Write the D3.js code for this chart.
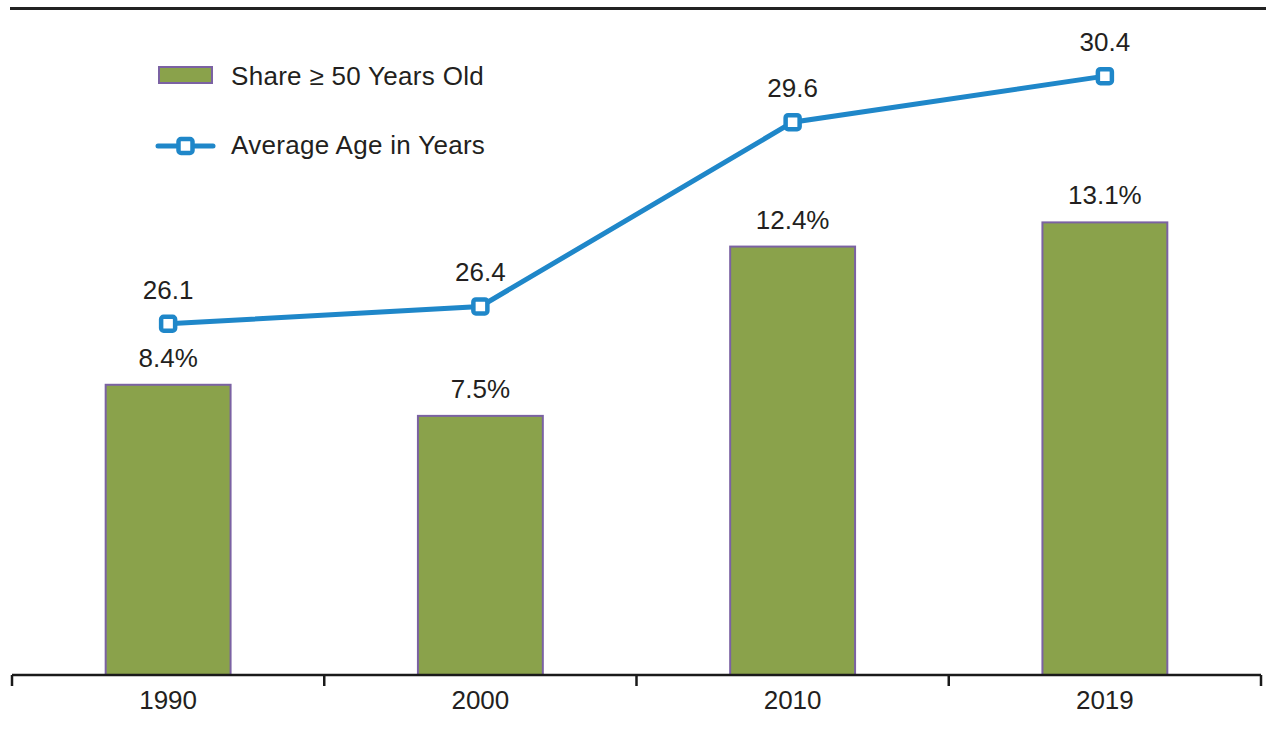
<!DOCTYPE html>
<html>
<head>
<meta charset="utf-8">
<script src="https://cdn.jsdelivr.net/npm/d3@7"></script>
<style>
  html, body { margin: 0; padding: 0; background: #fff; }
  svg { display: block; }
  text { font-family: "Liberation Sans", Arial, Helvetica, sans-serif; fill: #231f20; }
</style>
</head>
<body>
<svg id="chart" width="1266" height="739"></svg>
<script>
// Data
const years = ["1990", "2000", "2010", "2019"];
const shareOver50 = [8.4, 7.5, 12.4, 13.1];      // percent
const averageAge = [26.1, 26.4, 29.6, 30.4];     // years
const legendLabels = ["Share \u2265 50 Years Old", "Average Age in Years"];

const W = 1266, H = 739;
const plot = { left: 12, right: 1261, top: -16, bottom: 675 };
const fontSize = 26;

const colors = {
  bar: "#8aa24b",
  barStroke: "#7b62a3",
  line: "#1f87c9",
  axis: "#1a1a1a"
};

const svg = d3.select("#chart");

const x = d3.scaleBand()
  .domain(years)
  .range([plot.left, plot.right])
  .paddingInner(0.6)
  .paddingOuter(0.3);

const yShare = d3.scaleLinear().domain([0, 20]).range([plot.bottom, plot.top]);
const yAge = d3.scaleLinear().domain([20, 32]).range([plot.bottom, plot.top]);

// Rule across the top
svg.append("line")
  .attr("x1", 10).attr("x2", W)
  .attr("y1", 8.5).attr("y2", 8.5)
  .attr("stroke", "#222").attr("stroke-width", 3);

// Bars
const rows = years.map((y, i) => ({ year: y, share: shareOver50[i], age: averageAge[i] }));

svg.append("g").selectAll("rect")
  .data(rows).join("rect")
  .attr("x", d => x(d.year))
  .attr("y", d => yShare(d.share))
  .attr("width", x.bandwidth())
  .attr("height", d => yShare(0) - yShare(d.share))
  .attr("fill", colors.bar)
  .attr("stroke", colors.barStroke)
  .attr("stroke-width", 2);

// Bar value labels
svg.append("g").selectAll("text")
  .data(rows).join("text")
  .attr("x", d => x(d.year) + x.bandwidth() / 2)
  .attr("y", d => yShare(d.share) - 18)
  .attr("text-anchor", "middle")
  .attr("font-size", fontSize)
  .text(d => d.share.toFixed(1) + "%");

// X axis
const xAxis = d3.axisBottom(x).tickSize(0).tickPadding(16);
const gx = svg.append("g")
  .attr("transform", `translate(0,${plot.bottom})`)
  .call(xAxis);
gx.select(".domain").remove();
gx.selectAll("text")
  .attr("font-size", fontSize)
  .style("font-family", "'Liberation Sans', Arial, sans-serif")
  .attr("fill", "#231f20");

svg.append("line")
  .attr("x1", plot.left).attr("x2", plot.right)
  .attr("y1", plot.bottom).attr("y2", plot.bottom)
  .attr("stroke", colors.axis).attr("stroke-width", 2.5);

// Category boundary ticks
const boundaries = years.map(y => x(y) - x.step() * x.paddingInner() / 2)
  .concat([x(years[years.length - 1]) + x.bandwidth() + x.step() * x.paddingInner() / 2]);
svg.append("g").selectAll("line")
  .data(boundaries).join("line")
  .attr("x1", d => d).attr("x2", d => d)
  .attr("y1", plot.bottom).attr("y2", plot.bottom + 11)
  .attr("stroke", colors.axis).attr("stroke-width", 2.5);

// Average age line
const cx = d => x(d.year) + x.bandwidth() / 2;
const line = d3.line().x(cx).y(d => yAge(d.age));

svg.append("path")
  .datum(rows)
  .attr("d", line)
  .attr("fill", "none")
  .attr("stroke", colors.line)
  .attr("stroke-width", 5);

const mk = 14;
svg.append("g").selectAll("rect")
  .data(rows).join("rect")
  .attr("x", d => cx(d) - mk / 2)
  .attr("y", d => yAge(d.age) - mk / 2)
  .attr("width", mk).attr("height", mk)
  .attr("rx", 2.5)
  .attr("fill", "#fff")
  .attr("stroke", colors.line)
  .attr("stroke-width", 4.5);

svg.append("g").selectAll("text")
  .data(rows).join("text")
  .attr("x", cx)
  .attr("y", d => yAge(d.age) - 25)
  .attr("text-anchor", "middle")
  .attr("font-size", fontSize)
  .text(d => d.age.toFixed(1));

// Legend
const legend = svg.append("g");
legend.append("rect")
  .attr("x", 159).attr("y", 67)
  .attr("width", 53).attr("height", 16)
  .attr("fill", colors.bar)
  .attr("stroke", colors.barStroke)
  .attr("stroke-width", 2);
legend.append("text")
  .attr("x", 231).attr("y", 85)
  .attr("font-size", fontSize)
  .attr("letter-spacing", 0.3)
  .text(legendLabels[0]);

legend.append("line")
  .attr("x1", 158).attr("x2", 213)
  .attr("y1", 146).attr("y2", 146)
  .attr("stroke", colors.line).attr("stroke-width", 5)
  .attr("stroke-linecap", "round");
legend.append("rect")
  .attr("x", 185.5 - mk / 2).attr("y", 146 - mk / 2)
  .attr("width", mk).attr("height", mk)
  .attr("rx", 2.5)
  .attr("fill", "#fff")
  .attr("stroke", colors.line)
  .attr("stroke-width", 4.5);
legend.append("text")
  .attr("x", 231).attr("y", 154)
  .attr("font-size", fontSize)
  .attr("letter-spacing", 0.3)
  .text(legendLabels[1]);
</script>
</body>
</html>
